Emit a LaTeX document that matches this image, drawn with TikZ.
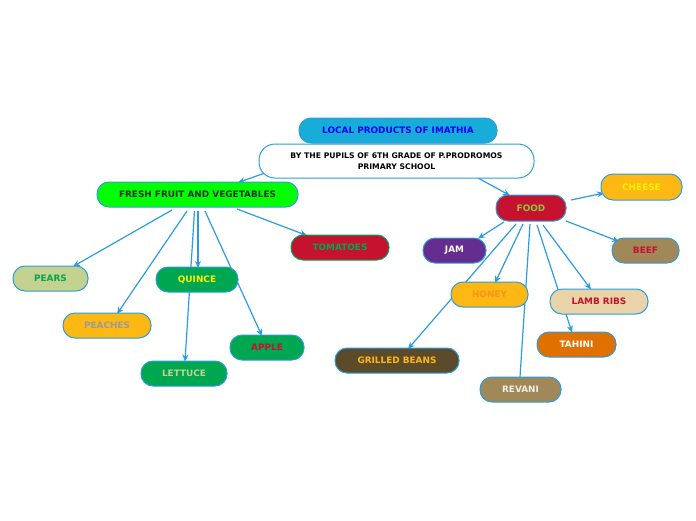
\documentclass[tikz,border=0pt]{standalone}
\usepackage{fontspec}
\setmainfont{DejaVu Sans}
\usetikzlibrary{arrows.meta}
\definecolor{lblue}{HTML}{2B9CE0}
\definecolor{cyanf}{HTML}{18ACD8}
\definecolor{lime}{HTML}{00FF00}
\definecolor{darktxt}{HTML}{1A3320}
\definecolor{cred}{HTML}{C4122F}
\definecolor{mgreen}{HTML}{00A650}
\definecolor{palegreen}{HTML}{C3D28F}
\definecolor{cyellow}{HTML}{FDB813}
\definecolor{cpurple}{HTML}{662D91}
\definecolor{cbrown}{HTML}{A08859}
\definecolor{cbeige}{HTML}{E8D4A8}
\definecolor{corange}{HTML}{E07000}
\definecolor{dbrown}{HTML}{5C4B2B}
\definecolor{ltgreen}{HTML}{8DC63F}
\definecolor{ctxtyellow}{HTML}{FFF200}
\definecolor{cgray}{HTML}{9A9A9A}
\definecolor{horange}{HTML}{F7941D}
\definecolor{offwhite}{HTML}{F2ECE4}
\tikzset{
  pill/.style={draw=lblue, line width=1pt, rounded corners=12pt, minimum height=25pt,
    inner sep=0pt, font=\fontsize{8.9}{10}\selectfont\bfseries, align=center},
  sub/.style={pill, fill=white, text=black, minimum width=275pt, minimum height=34pt,
    rounded corners=16pt, font=\fontsize{7.7}{11}\selectfont\bfseries},
  conn/.style={draw=lblue, line width=1.2pt},
  arr/.style={conn, -{Stealth[length=7pt,width=6pt]}}
}
\begin{document}
\begin{tikzpicture}[x=1pt,y=-1pt]
\useasboundingbox (0,0) rectangle (696,520);
% connector end points
\coordinate (pA) at (265,173);
\coordinate (pB) at (478,178);
\coordinate (freshin) at (238,182.5);
\coordinate (foodin) at (510,195.5);
\coordinate (f1) at (237,209);
\coordinate (f2) at (172,210);
\coordinate (f3) at (187,211);
\coordinate (f4) at (198,211);
\coordinate (f5) at (194.5,211);
\coordinate (f6) at (205,211);
\coordinate (tomin) at (307,235.5);
\coordinate (pearin) at (73,266.5);
\coordinate (peachin) at (117,314);
\coordinate (quincein) at (198,268);
\coordinate (lettin) at (185,361.5);
\coordinate (applein) at (262,336);
\coordinate (d1) at (571,200);
\coordinate (d2) at (504,222);
\coordinate (d3) at (566,221);
\coordinate (d4) at (523,224);
\coordinate (d5) at (516,224);
\coordinate (d6) at (530,224);
\coordinate (d7) at (537,225);
\coordinate (d8) at (543,225);
\coordinate (cheesein) at (604,193);
\coordinate (jamin) at (478,238.5);
\coordinate (beefin) at (619,241.5);
\coordinate (honeyin) at (495,283);
\coordinate (beansin) at (408,349);
\coordinate (revin) at (520,377);
\coordinate (tahin) at (572,332.5);
\coordinate (lambin) at (591,289.5);

% connectors
\draw[arr] (pA) -- (freshin);
\draw[arr] (pB) -- (foodin);
\draw[arr] (f1) -- (tomin);
\draw[arr] (f2) -- (pearin);
\draw[arr] (f3) -- (peachin);
\draw[arr] (f4) -- (quincein);
\draw[arr] (f5) -- (lettin);
\draw[arr] (f6) -- (applein);
\draw[arr] (d1) -- (cheesein);
\draw[arr] (d2) -- (jamin);
\draw[arr] (d3) -- (beefin);
\draw[arr] (d4) -- (honeyin);
\draw[arr] (d5) -- (beansin);
\draw[conn] (d6) -- (revin);
\draw[arr] (d7) -- (tahin);
\draw[arr] (d8) -- (lambin);

% nodes
\node[pill, fill=cyanf, text=blue, minimum width=198pt] (title) at (398,130.5) {LOCAL PRODUCTS OF IMATHIA};
\node[sub] (pupils) at (396.5,161) {BY THE PUPILS OF 6TH GRADE OF P.PRODROMOS\\PRIMARY SCHOOL};

\node[pill, fill=lime, text=darktxt, minimum width=201pt] (fresh) at (197.5,194.5) {FRESH FRUIT AND VEGETABLES};
\node[pill, draw=mgreen, fill=cred, text=mgreen, minimum width=98pt] (tomatoes) at (340,247.5) {TOMATOES};
\node[pill, fill=palegreen, text=mgreen, minimum width=75pt] (pears) at (50.5,278.5) {PEARS};
\node[pill, fill=mgreen, text=ctxtyellow, minimum width=82pt] (quince) at (197,279.5) {QUINCE};
\node[pill, fill=cyellow, text=cgray, minimum width=88pt] (peaches) at (107,325.5) {PEACHES};
\node[pill, fill=mgreen, text=cred, minimum width=74pt] (apple) at (267,347.5) {APPLE};
\node[pill, fill=mgreen, text=palegreen, minimum width=86pt] (lettuce) at (184,373.5) {LETTUCE};

\node[pill, fill=cred, text=ltgreen, minimum width=70pt, minimum height=26pt] (food) at (531,208) {FOOD};
\node[pill, fill=cyellow, text=ctxtyellow, minimum width=81pt, minimum height=26pt] (cheese) at (641.5,187) {CHEESE};
\node[pill, fill=cpurple, text=white, minimum width=63pt] (jam) at (454.5,250.5) {JAM};
\node[pill, fill=cbrown, text=cred, minimum width=67pt] (beef) at (645.5,250.5) {BEEF};
\node[pill, fill=cyellow, text=horange, minimum width=77pt] (honey) at (489.5,294.5) {HONEY};
\node[pill, fill=cbeige, text=cred, minimum width=98pt] (lamb) at (599,301.5) {LAMB RIBS};
\node[pill, fill=corange, text=white, minimum width=79pt] (tahini) at (576.5,344.5) {TAHINI};
\node[pill, fill=dbrown, text=cyellow, minimum width=124pt] (beans) at (397,360.5) {GRILLED BEANS};
\node[pill, fill=cbrown, text=offwhite, minimum width=81pt] (revani) at (520.5,389.5) {REVANI};
\end{tikzpicture}
\end{document}
